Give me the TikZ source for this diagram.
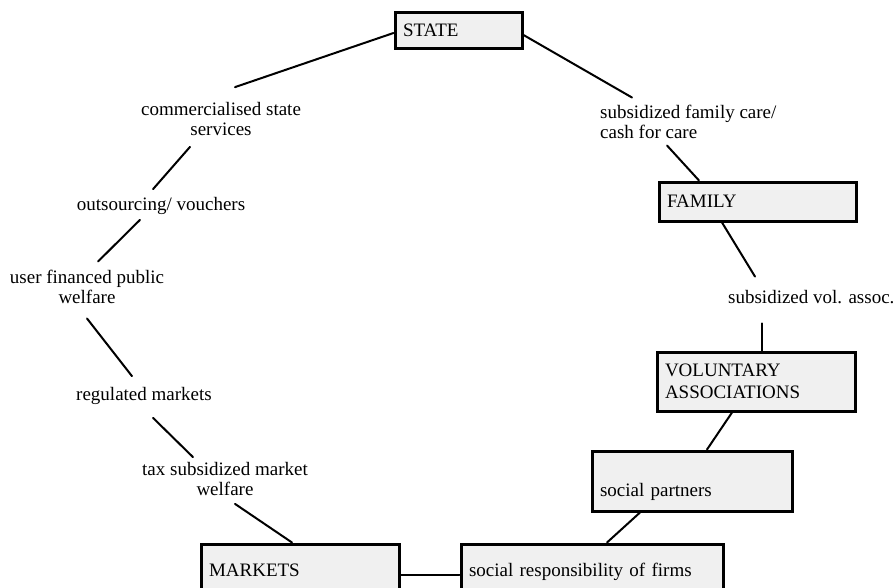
\documentclass[tikz,border=0pt]{standalone}
\usepackage{fontspec}
\setmainfont{Liberation Serif}
\definecolor{boxgray}{RGB}{240,240,240}
\begin{document}
\begin{tikzpicture}[x=1pt, y=-1pt,
	box/.style={rectangle, draw=black, fill=boxgray, line width=3pt, inner xsep=8pt, inner ysep=0pt, align=left, font=\fontsize{19}{20}\selectfont},
	lbl/.style={inner sep=0pt, font=\fontsize{19}{20}\selectfont},
	link/.style={line width=2pt, line cap=round}]
	\useasboundingbox (0,0) rectangle (893,587);
	\clip (0,0) rectangle (893,587);

	\node[box, text width=111pt, minimum height=36pt](stateBox) at (458.5,30){STATE};
	\node[box, text width=181pt, minimum height=39pt](familyBox) at (757.5,201.5){FAMILY};
	\node[box, text width=182pt, minimum height=59pt, font=\fontsize{19}{22}\selectfont](volBox) at (756,381.5){VOLUNTARY\\ASSOCIATIONS};
	\node[box, text width=184pt, minimum height=60pt, text height=36pt](partnersBox) at (692,481){social partners};
	\node[box, text width=246pt, minimum height=62pt, text depth=10pt](firmsBox) at (592,575){social responsibility of firms};
	\node[box, text width=182pt, minimum height=62pt, text depth=10pt](marketsBox) at (300,575){MARKETS};

	\node[lbl, align=center](commLbl) at (221,119){commercialised state\\services};
	\node[lbl](outsLbl) at (161,206){outsourcing/ vouchers};
	\node[lbl, align=center](userLbl) at (87,286.5){user financed public\\welfare};
	\node[lbl](regLbl) at (144,396){regulated markets};
	\node[lbl, align=center](taxLbl) at (225,479){tax subsidized market\\welfare};
	\node[lbl, align=left, anchor=west](careLbl) at (600,121.5){subsidized family care/\\cash for care};
	\node[lbl, anchor=west](volLbl) at (728,297.5){subsidized vol. assoc.};

	\draw[link] ([shift={(0,3)}]stateBox.west) -- ([shift={(14,-15)}]commLbl.north);
	\draw[link] ([shift={(-31,11)}]commLbl.south) -- ([shift={(-8,-8)}]outsLbl.north);
	\draw[link] ([shift={(-21,5)}]outsLbl.south) -- ([shift={(11,-8)}]userLbl.north);
	\draw[link] ([shift={(0,15)}]userLbl.south) -- ([shift={(-12,-11)}]regLbl.north);
	\draw[link] ([shift={(9,13)}]regLbl.south) -- ([shift={(-32,-5)}]taxLbl.north);
	\draw[link] ([shift={(10,8)}]taxLbl.south) -- ([shift={(-8,0)}]marketsBox.north);
	\draw[link] (marketsBox.east) -- (firmsBox.west);

	\draw[link] ([shift={(0,5)}]stateBox.east) -- ([shift={(32,-7)}]careLbl.north west);
	\draw[link] ([shift={(67,7)}]careLbl.south west) -- ([shift={(-58.5,0)}]familyBox.north);
	\draw[link] ([shift={(-35.5,0)}]familyBox.south) -- ([shift={(27,-14)}]volLbl.north west);
	\draw[link] ([shift={(34,19)}]volLbl.south west) -- ([shift={(6,0)}]volBox.north);
	\draw[link] ([shift={(-24,0)}]volBox.south) -- ([shift={(15,0)}]partnersBox.north);
	\draw[link] ([shift={(-52,0)}]partnersBox.south) -- ([shift={(15,0)}]firmsBox.north);
\end{tikzpicture}
\end{document}
